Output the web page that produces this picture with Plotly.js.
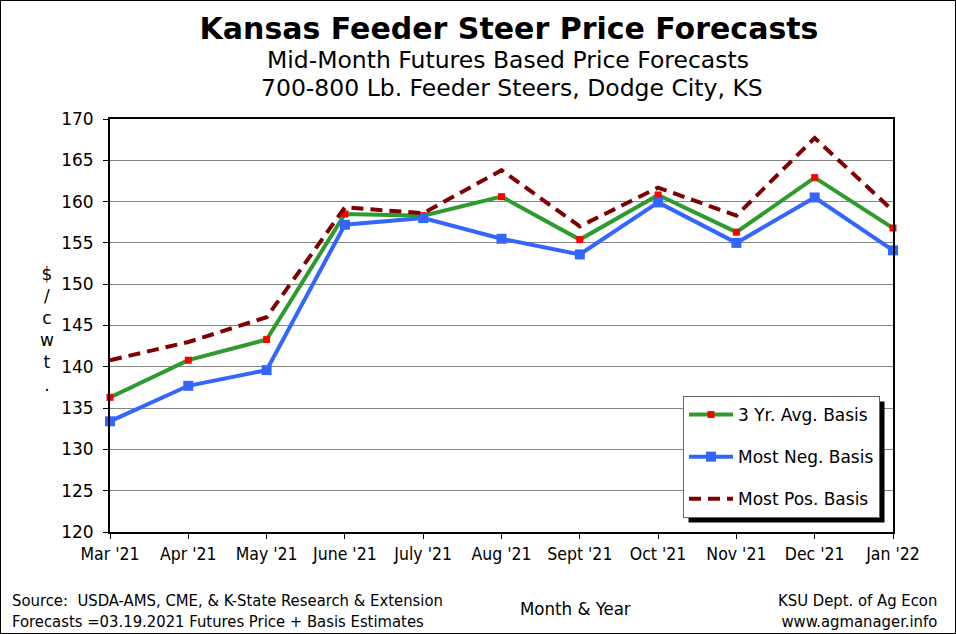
<!DOCTYPE html>
<html>
<head>
<meta charset="utf-8">
<script src="https://cdn.plot.ly/plotly-3.0.1.min.js"></script>
<style>
  html, body { margin: 0; padding: 0; background: #fff; }
  #wrap { position: relative; width: 956px; height: 634px; }
  #chart { width: 956px; height: 634px; }
  #frame { position: absolute; left: 0; top: 0; width: 954px; height: 632px; border: 1px solid #000; pointer-events: none; }
</style>
</head>
<body>
<div id="wrap"><div id="chart"></div><div id="frame"></div></div>
<script>
const months = ["Mar '21", "Apr '21", "May '21", "June '21", "July '21", "Aug '21", "Sept '21", "Oct '21", "Nov '21", "Dec '21", "Jan '22"];
const avgBasis = [136.3, 140.8, 143.3, 158.5, 158.3, 160.6, 155.4, 160.8, 156.3, 162.9, 156.8];
const mostNegBasis = [133.4, 137.7, 139.6, 157.2, 158.0, 155.5, 153.6, 159.9, 155.0, 160.5, 154.1];
const mostPosBasis = [140.8, 143.0, 146.0, 159.3, 158.6, 163.8, 157.0, 161.7, 158.3, 167.7, 158.9];
const yTicks = [120, 125, 130, 135, 140, 145, 150, 155, 160, 165, 170];

const verd = "Verdana, 'DejaVu Sans', sans-serif";
const narrow = "Tahoma, 'DejaVu Sans Condensed', 'Liberation Sans', sans-serif";

const W = 956, H = 634, L = 110, R = 893, T = 119, B = 532;
const px = x => (x - L) / (R - L);
const py = y => (B - y) / (B - T);

const traces = [
  { x: months, y: avgBasis, name: '3 Yr. Avg. Basis', type: 'scatter', mode: 'lines+markers',
    line: { color: '#2E9B2E', width: 4 }, marker: { symbol: 'square', size: 7, color: '#FF0000' },
    cliponaxis: false, legendgroup: 'a' },
  { x: months, y: mostNegBasis, name: 'Most Neg. Basis', type: 'scatter', mode: 'lines+markers',
    line: { color: '#3366FF', width: 4 }, marker: { symbol: 'square', size: 10, color: '#3366FF' },
    cliponaxis: false, legendgroup: 'b' },
  { x: months, y: mostPosBasis, name: 'Most Pos. Basis', type: 'scatter', mode: 'lines',
    line: { color: '#800000', width: 4, dash: '12px,7px' },
    cliponaxis: false, legendgroup: 'c' }
];

const layout = {
  width: W, height: H,
  margin: { l: L, r: W - R, t: T, b: H - B },
  paper_bgcolor: '#fff', plot_bgcolor: '#fff',
  showlegend: true,
  title: { text: '<b>Kansas Feeder Steer Price Forecasts</b>', x: 509 / W, xanchor: 'center',
           y: 1 - 28 / H, yanchor: 'middle', xref: 'container', yref: 'container',
           font: { family: verd, size: 30, color: '#000' } },
  xaxis: { type: 'category', categoryorder: 'array', categoryarray: months, range: [0, months.length - 1],
           showgrid: false, showline: true, linecolor: '#000', linewidth: 2, mirror: true,
           ticks: 'outside', ticklen: 5, tickcolor: '#000', tickwidth: 1,
           tickfont: { family: narrow, size: 17.5, color: '#000' }, fixedrange: true },
  yaxis: { range: [120, 170], tickvals: yTicks, ticktext: yTicks.map(String),
           showgrid: true, gridcolor: '#858585', gridwidth: 1, zeroline: false,
           showline: true, linecolor: '#000', linewidth: 2, mirror: true,
           ticks: 'outside', ticklen: 5, tickcolor: '#000', tickwidth: 1, ticklabelstandoff: 6,
           tickfont: { family: verd, size: 17, color: '#000' }, fixedrange: true },
  legend: { x: px(683), xanchor: 'left', y: py(396), yanchor: 'top',
            bgcolor: '#fff', bordercolor: '#666', borderwidth: 1,
            font: { family: verd, size: 17, color: '#000' }, itemwidth: 44,
            traceorder: 'grouped', tracegroupgap: 17 },
  shapes: [
    { type: 'rect', xref: 'paper', yref: 'paper', x0: px(688), x1: px(886), y0: py(401), y1: py(525),
      fillcolor: '#000', line: { width: 0 }, layer: 'above' }
  ],
  annotations: [
    { text: 'Mid-Month Futures Based Price Forecasts', xref: 'paper', yref: 'paper', x: px(508), y: py(60),
      xanchor: 'center', yanchor: 'middle', showarrow: false, font: { family: verd, size: 23.5, color: '#000' } },
    { text: '700-800 Lb. Feeder Steers, Dodge City, KS', xref: 'paper', yref: 'paper', x: px(512), y: py(88),
      xanchor: 'center', yanchor: 'middle', showarrow: false, font: { family: verd, size: 23.5, color: '#000' } },
    { text: '$<br>/<br>c<br>w<br>t<br>.', xref: 'paper', yref: 'paper', x: px(47), y: py(329),
      xanchor: 'center', yanchor: 'middle', showarrow: false, font: { family: verd, size: 17, color: '#000' } },
    { text: 'Source:  USDA-AMS, CME, & K-State Research & Extension<br>Forecasts =03.19.2021 Futures Price + Basis Estimates',
      xref: 'paper', yref: 'paper', x: px(10), y: py(611), align: 'left',
      xanchor: 'left', yanchor: 'middle', showarrow: false, font: { family: narrow, size: 16.5, color: '#000' } },
    { text: 'Month & Year', xref: 'paper', yref: 'paper', x: px(575), y: py(608),
      xanchor: 'center', yanchor: 'middle', showarrow: false, font: { family: narrow, size: 18.5, color: '#000' } },
    { text: 'KSU Dept. of Ag Econ<br>www.agmanager.info', xref: 'paper', yref: 'paper', x: px(939), y: py(611), align: 'right',
      xanchor: 'right', yanchor: 'middle', showarrow: false, font: { family: narrow, size: 16.5, color: '#000' } }
  ]
};

Plotly.newPlot('chart', traces, layout, { displayModeBar: false, staticPlot: true }).then(gd => {
  // place the legend drop shadow relative to the rendered legend box
  const bg = gd.querySelector('.legend .bg');
  if (!bg) return;
  const box = bg.getBoundingClientRect();
  const host = gd.getBoundingClientRect();
  const x0 = box.left - host.left + 5, x1 = box.right - host.left + 5;
  const y0 = box.top - host.top + 5, y1 = box.bottom - host.top + 5;
  return Plotly.relayout(gd, { 'shapes[0].x0': px(x0), 'shapes[0].x1': px(x1), 'shapes[0].y0': py(y1), 'shapes[0].y1': py(y0) });
});
</script>
</body>
</html>
